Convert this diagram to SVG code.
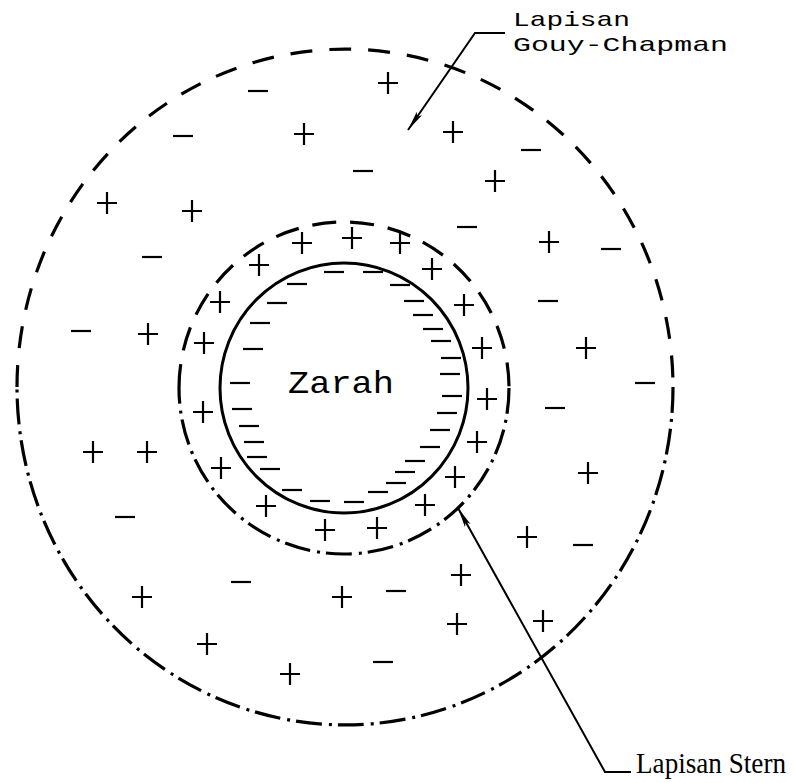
<svg xmlns="http://www.w3.org/2000/svg" xmlns:xlink="http://www.w3.org/1999/xlink" width="795" height="783" viewBox="0 0 795 783">
<style>
.bg{fill:#fff}
.ring{fill:none;stroke:#000;stroke-width:3.2;stroke-linecap:butt}
.dash{stroke-dasharray:22 17}
.sdash{stroke-dasharray:24 14}
.dd{stroke-dasharray:26 6 3 7}
.solid{fill:none;stroke:#000;stroke-width:3}
.sign{fill:none;stroke:#000;stroke-width:2.2}
.lead{fill:none;stroke:#000;stroke-width:2}
.lbl{font-family:"Liberation Mono","DejaVu Sans Mono",monospace;fill:#000}
.lbl2{font-family:"Liberation Serif","DejaVu Serif",serif;fill:#000}
</style>
<defs>
<path id="p" d="M-10,0H10M0,-11V11"/>
<path id="m" d="M-10,0H10"/>
<marker id="ah" markerUnits="userSpaceOnUse" viewBox="0 0 20 10" markerWidth="20" markerHeight="10" refX="20" refY="5" orient="auto">
<path d="M0,1.8 L20,5 L0,8.2 L4,5 Z" fill="#000"/>
</marker>
</defs>
<rect class="bg" width="795" height="783"/>

<g id="gouy-chapman-layer">
<path class="ring dash" d="M17,387 A328,338 0 0 1 673,387"/>
<path class="ring dd" d="M673,387 A328,338 0 0 1 17,387"/>
<g class="sign">
<use href="#p" x="388" y="83"/><use href="#p" x="304" y="134"/><use href="#p" x="453" y="132"/>
<use href="#p" x="495" y="181"/><use href="#p" x="107" y="203"/><use href="#p" x="192" y="211"/>
<use href="#p" x="549" y="242"/><use href="#p" x="148" y="334"/><use href="#p" x="586" y="348"/>
<use href="#p" x="93" y="452"/><use href="#p" x="147" y="452"/><use href="#p" x="588" y="473"/>
<use href="#p" x="527" y="537"/><use href="#p" x="142" y="597"/><use href="#p" x="342" y="597"/>
<use href="#p" x="461" y="575"/><use href="#p" x="457" y="624"/><use href="#p" x="543" y="621"/>
<use href="#p" x="207" y="644"/><use href="#p" x="290" y="674"/>
<use href="#m" x="258" y="91"/><use href="#m" x="183" y="136"/><use href="#m" x="531" y="150"/>
<use href="#m" x="363" y="171"/><use href="#m" x="467" y="227"/><use href="#m" x="152" y="257"/>
<use href="#m" x="611" y="249"/><use href="#m" x="548" y="301"/><use href="#m" x="81" y="331"/>
<use href="#m" x="645" y="383"/><use href="#m" x="555" y="408"/><use href="#m" x="125" y="517"/>
<use href="#m" x="583" y="545"/><use href="#m" x="241" y="582"/><use href="#m" x="396" y="591"/>
<use href="#m" x="383" y="662"/>
</g>
</g>

<g id="stern-layer">
<path class="ring sdash" d="M179,388 A165,166 0 0 1 509,388"/>
<path class="ring dd" d="M509,388 A165,166 0 0 1 179,388"/>
<g class="sign">
<use href="#p" x="259" y="265"/><use href="#p" x="302" y="243"/><use href="#p" x="352" y="238"/>
<use href="#p" x="400" y="243"/><use href="#p" x="432" y="269"/><use href="#p" x="464" y="305"/>
<use href="#p" x="482" y="348"/><use href="#p" x="487" y="399"/><use href="#p" x="477" y="442"/>
<use href="#p" x="455" y="477"/><use href="#p" x="425" y="505"/><use href="#p" x="377" y="528"/>
<use href="#p" x="325" y="530"/><use href="#p" x="266" y="506"/><use href="#p" x="221" y="468"/>
<use href="#p" x="203" y="412"/><use href="#p" x="204" y="343"/><use href="#p" x="220" y="302"/>
</g>
</g>

<g id="zarah">
<ellipse class="solid" cx="344" cy="388" rx="124" ry="125"/>
<g class="sign">
<use href="#m" x="334" y="272"/><use href="#m" x="373" y="272"/><use href="#m" x="297" y="284"/>
<use href="#m" x="277" y="303"/><use href="#m" x="260" y="323"/><use href="#m" x="253" y="349"/>
<use href="#m" x="240" y="383"/><use href="#m" x="242" y="409"/><use href="#m" x="249" y="426"/>
<use href="#m" x="254" y="442"/><use href="#m" x="257" y="457"/><use href="#m" x="270" y="469"/>
<use href="#m" x="292" y="490"/><use href="#m" x="320" y="501"/><use href="#m" x="354" y="502"/>
<use href="#m" x="378" y="492"/><use href="#m" x="396" y="483"/><use href="#m" x="405" y="472"/>
<use href="#m" x="415" y="461"/><use href="#m" x="430" y="447"/><use href="#m" x="440" y="430"/>
<use href="#m" x="447" y="413"/><use href="#m" x="452" y="396"/><use href="#m" x="450" y="374"/>
<use href="#m" x="451" y="358"/><use href="#m" x="441" y="341"/><use href="#m" x="433" y="329"/>
<use href="#m" x="423" y="315"/><use href="#m" x="414" y="301"/><use href="#m" x="400" y="285"/>
</g>
<text class="lbl" x="288" y="393" font-size="32" textLength="106" lengthAdjust="spacingAndGlyphs">Zarah</text>
</g>

<g id="label-gouy">
<text class="lbl" x="513" y="26" font-size="21" textLength="117" lengthAdjust="spacingAndGlyphs">Lapisan</text>
<text class="lbl" x="513" y="51" font-size="21" textLength="215" lengthAdjust="spacingAndGlyphs">Gouy-Chapman</text>
</g>

<g id="label-stern">
<text class="lbl2" x="636" y="773" font-size="29" textLength="150" lengthAdjust="spacingAndGlyphs">Lapisan Stern</text>
</g>

<g id="connectors">
<path class="lead" d="M505,33 H475 L408,130" marker-end="url(#ah)"/>
<path class="lead" d="M631,772 H605 L458,508" marker-end="url(#ah)"/>
</g>
</svg>
